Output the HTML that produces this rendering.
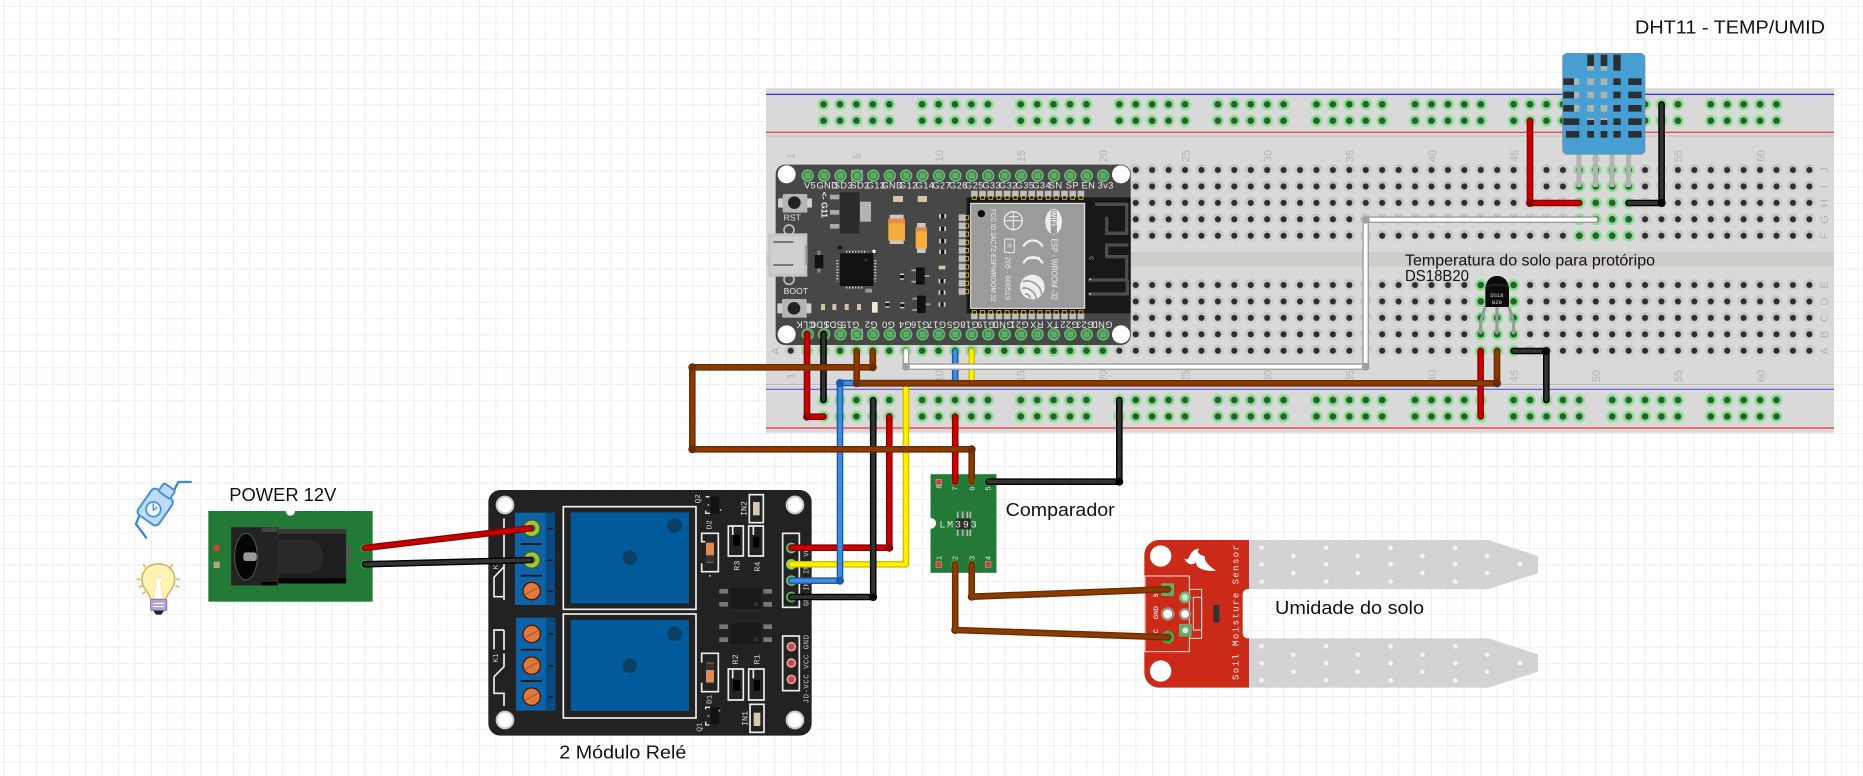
<!DOCTYPE html>
<html><head><meta charset="utf-8"><title>Circuit</title>
<style>
html,body{margin:0;padding:0;background:#fff}
svg{display:block}
text{font-family:"Liberation Sans",sans-serif}
.w{fill:none;stroke-linecap:round;stroke-linejoin:round;stroke-width:6.6}
.i{fill:none;stroke-linecap:round;stroke-linejoin:round;stroke-width:3.8}
.lb{font-size:18px;fill:#111}
.n{font-size:11px;fill:#b4b4b4;text-anchor:middle}
.t{font-size:28px;fill:#eee;text-anchor:middle;letter-spacing:1px}
.s{font-size:24px;fill:#e8e8e8;text-anchor:middle}
.rt{font-size:25px;fill:#d8d8d8;font-family:"Liberation Mono",monospace}
</style></head>
<body>
<svg xmlns="http://www.w3.org/2000/svg" width="1863" height="776" viewBox="0 0 1863 776">
<defs>
<pattern id="gv" x="3.3" y="0" width="16.41" height="100" patternUnits="userSpaceOnUse"><line x1="0" y1="0" x2="0" y2="100" stroke="#e3e7ef" stroke-width="1.4"/></pattern>
<pattern id="gh" x="0" y="6" width="100" height="16.43" patternUnits="userSpaceOnUse"><line x1="0" y1="0" x2="100" y2="0" stroke="#e6e9f0" stroke-width="1.4"/></pattern>
<pattern id="hd" x="782.485" y="161.785" width="16.43" height="16.43" patternUnits="userSpaceOnUse"><rect width="16.43" height="16.43" fill="#d9d9d9"/><circle cx="8.215" cy="8.215" r="5.6" fill="#bdbdbd"/><circle cx="8.215" cy="8.9" r="5" fill="#e6e6e6" opacity=".5"/><circle cx="8.215" cy="8.215" r="3.1" fill="#2e2e2e"/></pattern>
<pattern id="hg" x="782.485" y="161.785" width="16.43" height="16.43" patternUnits="userSpaceOnUse"><rect width="16.43" height="16.43" fill="#d9d9d9"/><circle cx="8.215" cy="8.215" r="5.9" fill="#8be090"/><circle cx="8.215" cy="8.215" r="3.4" fill="#2a5f34"/></pattern>
<pattern id="pin" x="178.4" y="322.4" width="49.25" height="49.25" patternUnits="userSpaceOnUse"><circle cx="24.6" cy="24.6" r="16.5" fill="#3f8c4a" stroke="#6cc578" stroke-width="4"/><rect x="18" y="18" width="13" height="13" fill="#5fa568" stroke="#86b98c" stroke-width="2"/></pattern>
<pattern id="pt" x="691" y="390" width="24.6" height="30" patternUnits="userSpaceOnUse"><rect x="2" y="2" width="20" height="18" fill="#bdbdbd"/><rect x="6" y="18" width="12" height="10" fill="#111" stroke="#e8c83c" stroke-width="2.5"/></pattern>
<pattern id="pb" x="691" y="750" width="24.6" height="30" patternUnits="userSpaceOnUse"><rect x="2" y="10" width="20" height="18" fill="#bdbdbd"/><rect x="6" y="2" width="12" height="10" fill="#111" stroke="#e8c83c" stroke-width="2.5"/></pattern>
<pattern id="pl" x="654" y="461" width="36" height="24.6" patternUnits="userSpaceOnUse"><rect x="2" y="2" width="20" height="20" fill="#bdbdbd"/><rect x="22" y="6" width="10" height="12" fill="#111" stroke="#e8c83c" stroke-width="2.5"/></pattern>
<g id="dots" fill="#f4f4f4">
<circle cx="425" cy="83" r="7"/><circle cx="425" cy="133" r="7"/><circle cx="425" cy="185" r="7"/><circle cx="520" cy="108" r="7"/><circle cx="520" cy="159" r="7"/>
<circle cx="618" cy="83" r="7"/><circle cx="618" cy="133" r="7"/><circle cx="618" cy="185" r="7"/><circle cx="713" cy="108" r="7"/><circle cx="713" cy="159" r="7"/>
<circle cx="812" cy="83" r="7"/><circle cx="812" cy="133" r="7"/><circle cx="812" cy="185" r="7"/><circle cx="907" cy="108" r="7"/><circle cx="907" cy="159" r="7"/>
<circle cx="1006" cy="83" r="7"/><circle cx="1006" cy="133" r="7"/><circle cx="1006" cy="185" r="7"/><circle cx="1101" cy="108" r="7"/><circle cx="1101" cy="159" r="7"/><circle cx="1200" cy="133" r="7"/>
</g>
<g id="scr"><circle r="26" fill="#e07a3c" stroke="#4a1a05" stroke-width="4"/><line x1="-18" y1="10" x2="18" y2="-10" stroke="#b0593a" stroke-width="4"/></g>
<g id="mh"><circle r="25" fill="#fff" stroke="#c9c9c9" stroke-width="6"/></g>
</defs>

<rect width="1863" height="776" fill="#fff"/>
<rect width="1863" height="776" fill="url(#gv)"/>
<rect width="1863" height="776" fill="url(#gh)"/>

<!-- Breadboard -->
<rect x="766" y="88.3" width="1068" height="344.4" fill="#d9d9d9"/>
<rect x="766" y="251.7" width="1068" height="15" fill="#cecdc9"/>
<line x1="766" y1="94.3" x2="1834" y2="94.3" stroke="#1a1ae0" stroke-width="1.2"/>
<line x1="766" y1="132.3" x2="1834" y2="132.3" stroke="#f03030" stroke-width="1.2"/>
<line x1="766" y1="136" x2="1834" y2="136" stroke="#bdbdbd" stroke-width="1"/>
<line x1="766" y1="384.5" x2="1834" y2="384.5" stroke="#bdbdbd" stroke-width="1"/>
<line x1="766" y1="389.3" x2="1834" y2="389.3" stroke="#5a5ae0" stroke-width="1.2"/>
<line x1="766" y1="428" x2="1834" y2="428" stroke="#f03030" stroke-width="1.2"/>

<rect x="782.485" y="161.785" width="1035.09" height="82.15" fill="url(#hd)"/>
<rect x="782.485" y="276.8" width="1035.09" height="82.15" fill="url(#hd)"/>

<g fill="url(#hg)">
<rect x="815.35" y="96.07" width="82.15" height="32.86"/><rect x="913.93" y="96.07" width="82.15" height="32.86"/><rect x="1012.51" y="96.07" width="82.15" height="32.86"/><rect x="1111.09" y="96.07" width="82.15" height="32.86"/><rect x="1209.67" y="96.07" width="82.15" height="32.86"/><rect x="1308.25" y="96.07" width="82.15" height="32.86"/><rect x="1406.83" y="96.07" width="82.15" height="32.86"/><rect x="1505.41" y="96.07" width="82.15" height="32.86"/><rect x="1603.99" y="96.07" width="82.15" height="32.86"/><rect x="1702.57" y="96.07" width="82.15" height="32.86"/>
<rect x="815.35" y="391.8" width="82.15" height="32.86"/><rect x="913.93" y="391.8" width="82.15" height="32.86"/><rect x="1012.51" y="391.8" width="82.15" height="32.86"/><rect x="1111.09" y="391.8" width="82.15" height="32.86"/><rect x="1209.67" y="391.8" width="82.15" height="32.86"/><rect x="1308.25" y="391.8" width="82.15" height="32.86"/><rect x="1406.83" y="391.8" width="82.15" height="32.86"/><rect x="1505.41" y="391.8" width="82.15" height="32.86"/><rect x="1603.99" y="391.8" width="82.15" height="32.86"/><rect x="1702.57" y="391.8" width="82.15" height="32.86"/>
<rect x="798.9" y="342.5" width="312.17" height="16.43"/>
<rect x="1571.1" y="161.785" width="65.72" height="82.15"/>
<rect x="1472.5" y="276.8" width="49.29" height="82.15"/>
</g>

<!-- Column numbers -->
<g class="n">
<text class="n" transform="translate(794.5,156) rotate(-90)">1</text>
<text class="n" transform="translate(860.5,156) rotate(-90)">5</text>
<text class="n" transform="translate(943,156) rotate(-90)">10</text>
<text class="n" transform="translate(1025,156) rotate(-90)">15</text>
<text class="n" transform="translate(1107,156) rotate(-90)">20</text>
<text class="n" transform="translate(1189.5,156) rotate(-90)">25</text>
<text class="n" transform="translate(1271.5,156) rotate(-90)">30</text>
<text class="n" transform="translate(1353.5,156) rotate(-90)">35</text>
<text class="n" transform="translate(1436,156) rotate(-90)">40</text>
<text class="n" transform="translate(1518,156) rotate(-90)">45</text>
<text class="n" transform="translate(1600,156) rotate(-90)">50</text>
<text class="n" transform="translate(1682,156) rotate(-90)">55</text>
<text class="n" transform="translate(1764.5,156) rotate(-90)">60</text>
<text class="n" transform="translate(794.5,376) rotate(-90)">1</text>
<text class="n" transform="translate(860.5,376) rotate(-90)">5</text>
<text class="n" transform="translate(943,376) rotate(-90)">10</text>
<text class="n" transform="translate(1024.5,376) rotate(-90)">15</text>
<text class="n" transform="translate(1107,376) rotate(-90)">20</text>
<text class="n" transform="translate(1189.5,376) rotate(-90)">25</text>
<text class="n" transform="translate(1271.5,376) rotate(-90)">30</text>
<text class="n" transform="translate(1353.5,376) rotate(-90)">35</text>
<text class="n" transform="translate(1436,376) rotate(-90)">40</text>
<text class="n" transform="translate(1518,376) rotate(-90)">45</text>
<text class="n" transform="translate(1600,376) rotate(-90)">50</text>
<text class="n" transform="translate(1682,376) rotate(-90)">55</text>
<text class="n" transform="translate(1764.5,376) rotate(-90)">60</text>
<text class="n" transform="translate(1828,170) rotate(-90)">J</text>
<text class="n" transform="translate(1828,186.5) rotate(-90)">I</text>
<text class="n" transform="translate(1828,203) rotate(-90)">H</text>
<text class="n" transform="translate(1828,219.5) rotate(-90)">G</text>
<text class="n" transform="translate(1828,236) rotate(-90)">F</text>
<text class="n" transform="translate(1828,285) rotate(-90)">E</text>
<text class="n" transform="translate(1828,301.5) rotate(-90)">D</text>
<text class="n" transform="translate(1828,318) rotate(-90)">C</text>
<text class="n" transform="translate(1828,334.5) rotate(-90)">B</text>
<text class="n" transform="translate(1828,351) rotate(-90)">A</text>
<text class="n" transform="translate(779,351) rotate(-90)">A</text>
</g>

<!-- ESP32 -->
<g transform="translate(740,60) scale(.33333)">
<rect x="107" y="314" width="1065" height="541" rx="28" fill="#474747"/>
<rect x="680" y="412" width="492" height="348" fill="#171717"/>
<g fill="none" stroke="#4d4d4d" stroke-width="10">
<path d="M1065 433H1160V520H1100V470"/><path d="M1045 660H1160V590H1100V555H1165"/><path d="M1045 702H1162V660"/>
</g>
<rect x="1048" y="655" width="5" height="5" fill="#e6c84a"/><rect x="1048" y="699" width="5" height="5" fill="#e6c84a"/>
<text x="1062" y="590" transform="rotate(90 1056 583)" style="font-size:16px;fill:#ddd">C</text>
<circle cx="140" cy="343" r="27" fill="#fff"/><circle cx="1143" cy="343" r="27" fill="#fff"/><circle cx="140" cy="823" r="27" fill="#fff"/><circle cx="1143" cy="823" r="27" fill="#fff"/>
<rect x="333" y="330" width="36" height="34" fill="#8f8f8f"/><rect x="333" y="806" width="36" height="34" fill="#8f8f8f"/>
<rect x="178.4" y="322.4" width="935.75" height="49.25" fill="url(#pin)"/>
<g transform="translate(0,476)"><rect x="178.4" y="322.4" width="935.75" height="49.25" fill="url(#pin)"/></g>
<text class="t" x="210" y="385">V5</text><text class="t" x="262" y="385">GND</text><text class="t" x="310" y="385">SD3</text><text class="t" x="360" y="385">SD2</text><text class="t" x="408" y="385">G13</text><text class="t" x="457" y="385">GND</text><text class="t" x="505" y="385">G12</text><text class="t" x="555" y="385">G14</text><text class="t" x="605" y="385">G27</text><text class="t" x="655" y="385">G26</text><text class="t" x="703" y="385">G25</text><text class="t" x="755" y="385">G33</text><text class="t" x="805" y="385">G32</text><text class="t" x="855" y="385">G35</text><text class="t" x="905" y="385">G34</text><text class="t" x="947" y="385">SN</text><text class="t" x="997" y="385">SP</text><text class="t" x="1045" y="385">EN</text><text class="t" x="1097" y="385">3v3</text>
<text class="t" transform="translate(197,785) rotate(180)">CLK</text><text class="t" transform="translate(240,785) rotate(180)">SD0</text><text class="t" transform="translate(280,785) rotate(180)">SD1</text><text class="t" transform="translate(330,785) rotate(180)">G15</text><text class="t" transform="translate(393,785) rotate(180)">G2</text><text class="t" transform="translate(445,785) rotate(180)">G0</text><text class="t" transform="translate(495,785) rotate(180)">G4</text><text class="t" transform="translate(540,785) rotate(180)">G16</text><text class="t" transform="translate(590,785) rotate(180)">G17</text><text class="t" transform="translate(640,785) rotate(180)">G5</text><text class="t" transform="translate(688,785) rotate(180)">G18</text><text class="t" transform="translate(738,785) rotate(180)">G19</text><text class="t" transform="translate(788,785) rotate(180)">GND</text><text class="t" transform="translate(838,785) rotate(180)">G21</text><text class="t" transform="translate(890,785) rotate(180)">RX</text><text class="t" transform="translate(938,785) rotate(180)">TX</text><text class="t" transform="translate(988,785) rotate(180)">G22</text><text class="t" transform="translate(1035,785) rotate(180)">G23</text><text class="t" transform="translate(1085,785) rotate(180)">GND</text>

<!-- buttons -->
<rect x="114" y="415" width="102" height="28" rx="3" fill="#cfcfcf"/><rect x="128" y="402" width="74" height="56" rx="4" fill="#b5b5b5"/><circle cx="163" cy="428" r="19" fill="#222"/>
<rect x="112" y="730" width="102" height="30" rx="3" fill="#cfcfcf"/><rect x="126" y="717" width="74" height="56" rx="4" fill="#b5b5b5"/><circle cx="162" cy="745" r="19" fill="#222"/>
<text x="131" y="482" style="font-size:26px;fill:#e8e8e8">RST</text><text x="131" y="702" style="font-size:26px;fill:#e8e8e8">BOOT</text>
<!-- USB -->
<circle cx="147" cy="510" r="15" fill="none" stroke="#bdbdbd" stroke-width="5"/><circle cx="147" cy="658" r="15" fill="none" stroke="#bdbdbd" stroke-width="5"/>
<rect x="85" y="520" width="117" height="130" fill="#c4c4c4"/><rect x="92" y="530" width="100" height="110" fill="#cfcfcf"/>
<rect x="100" y="543" width="60" height="6" fill="#777"/><rect x="100" y="612" width="60" height="6" fill="#777"/><rect x="196" y="555" width="7" height="60" fill="#999"/>
<!-- regulator -->
<rect x="270" y="404" width="28" height="14" fill="#aaa"/><rect x="270" y="450" width="28" height="14" fill="#aaa"/><rect x="270" y="492" width="28" height="14" fill="#aaa"/>
<rect x="300" y="397" width="58" height="123" fill="#2a2a2a"/><rect x="360" y="425" width="33" height="60" fill="#b3b3b3"/>
<text transform="translate(245,395) rotate(90)" style="font-size:26px;fill:#eee;font-weight:bold">&lt;- G11</text>
<!-- caps -->
<rect x="449" y="464" width="42" height="88" fill="#c8c8c8"/><rect x="445" y="476" width="50" height="66" fill="#f5ad3c"/><rect x="445" y="476" width="50" height="14" fill="#e88c42"/>
<rect x="531" y="489" width="26" height="90" fill="#c8c8c8"/><rect x="527" y="502" width="34" height="64" fill="#f5ad3c"/><rect x="527" y="502" width="34" height="12" fill="#e88c42"/>
<rect x="459" y="408" width="30" height="18" fill="#d5c3a5"/><rect x="533" y="408" width="28" height="18" fill="#d5c3a5"/>
<!-- MCU -->
<rect x="300" y="580" width="100" height="98" fill="#111"/><circle cx="378" cy="600" r="5" fill="#333"/>
<path d="M318 575H382M318 683H372M292 600V665M406 600V665" stroke="#ccc" stroke-width="6" stroke-dasharray="4 5" fill="none"/>
<circle cx="402" cy="574" r="5" fill="#fff"/><rect x="294" y="558" width="12" height="10" fill="#111"/><rect x="376" y="686" width="20" height="12" fill="#999"/>
<rect x="232" y="572" width="10" height="66" fill="#aaa" opacity=".6"/><rect x="224" y="585" width="26" height="40" fill="#111"/>
<!-- small parts -->
<g fill="#d5c3a5"><rect x="243" y="732" width="12" height="18"/><rect x="277" y="732" width="12" height="18"/><rect x="314" y="732" width="12" height="18"/><rect x="351" y="732" width="12" height="18"/><rect x="596" y="617" width="20" height="11"/></g>
<rect x="396" y="726" width="17" height="32" fill="#efe7cf"/>
<g fill="#ddd"><rect x="598" y="462" width="20" height="13"/><rect x="598" y="500" width="20" height="13"/><rect x="598" y="537" width="20" height="13"/><rect x="598" y="569" width="20" height="13"/><rect x="596" y="657" width="20" height="13"/><rect x="596" y="691" width="20" height="13"/><rect x="596" y="727" width="20" height="13"/><rect x="436" y="725" width="12" height="18"/><rect x="481" y="727" width="12" height="18"/><rect x="480" y="641" width="12" height="18"/></g>
<g fill="#111"><rect x="603" y="462" width="10" height="13"/><rect x="603" y="500" width="10" height="13"/><rect x="603" y="537" width="10" height="13"/><rect x="603" y="569" width="10" height="13"/><rect x="601" y="657" width="10" height="13"/><rect x="601" y="691" width="10" height="13"/><rect x="601" y="727" width="10" height="13"/><rect x="436" y="729" width="12" height="10"/><rect x="481" y="731" width="12" height="10"/><rect x="480" y="645" width="12" height="10"/></g>
<rect x="528" y="622" width="26" height="52" fill="#111"/><rect x="531" y="707" width="26" height="52" fill="#111"/>
<g fill="#999"><rect x="514" y="628" width="14" height="6"/><rect x="514" y="662" width="14" height="6"/><rect x="554" y="645" width="14" height="6"/><rect x="517" y="713" width="14" height="6"/><rect x="517" y="747" width="14" height="6"/><rect x="557" y="730" width="14" height="6"/></g>
<!-- module -->
<rect x="691" y="390" width="345" height="30" fill="url(#pt)"/>
<rect x="691" y="750" width="345" height="30" fill="url(#pb)"/>
<rect x="654" y="461" width="36" height="246" fill="url(#pl)"/>
<rect x="692" y="430" width="342" height="315" fill="#9b9b9b" stroke="#f0f0f0" stroke-width="3"/>
<circle cx="724" cy="461" r="11" fill="#050505"/>
<text transform="translate(753,447) rotate(90)" style="font-size:21px;fill:#eee" textLength="278" lengthAdjust="spacingAndGlyphs">FCC ID:2AC7Z-ESPWROOM 32</text>
<text transform="translate(797,590) rotate(90)" style="font-size:22px;fill:#eee" textLength="130" lengthAdjust="spacingAndGlyphs">205 - 000519</text>
<text transform="translate(934,535) rotate(90)" style="font-size:24px;fill:#eee" textLength="185" lengthAdjust="spacingAndGlyphs">ESP - WROOM -32</text>
<circle cx="820" cy="482" r="27" fill="none" stroke="#eee" stroke-width="4"/><path d="M796 482H845M820 456V510M806 470H835" stroke="#eee" stroke-width="3" fill="none"/>
<ellipse cx="941" cy="485" rx="25" ry="38" fill="#eee"/><rect x="932" y="450" width="19" height="72" rx="6" fill="#9b9b9b"/>
<text transform="translate(934,452) rotate(90)" style="font-size:22px;fill:#eee;font-weight:bold">WiFi</text>
<rect x="794" y="537" width="29" height="41" rx="3" fill="none" stroke="#eee" stroke-width="3"/>
<text transform="translate(801,551) rotate(90)" style="font-size:18px;fill:#eee">R</text>
<path d="M850 560A32 32 0 0 1 908 560" fill="none" stroke="#eee" stroke-width="7"/>
<path d="M850 610A32 32 0 0 1 908 610M860 594H900" fill="none" stroke="#eee" stroke-width="7"/>
<circle cx="877" cy="681" r="37" fill="#eee"/><path d="M848 665C875 655 905 680 905 705M846 685C865 680 885 695 888 715M855 702C865 702 870 710 872 716" fill="none" stroke="#9b9b9b" stroke-width="5"/>
</g>

<!-- Relay board -->
<g transform="translate(480,480) scale(.33333)">
<rect x="25" y="30" width="970" height="737" rx="36" fill="#222"/>
<use href="#mh" x="75" y="75"/><use href="#mh" x="945" y="75"/><use href="#mh" x="75" y="720"/><use href="#mh" x="945" y="720"/>
<rect x="105" y="98" width="120" height="277" fill="#0e62a8"/><rect x="197" y="98" width="28" height="277" fill="#094a82"/>
<rect x="108" y="413" width="118" height="279" fill="#0e62a8"/><rect x="198" y="413" width="28" height="279" fill="#094a82"/>
<path d="M72 115V260L42 292V350H72V260M72 350V360" fill="none" stroke="#eee" stroke-width="5"/>
<path d="M72 450H42V508M72 450V510M42 590V640H72V678M42 590L72 560V520" fill="none" stroke="#eee" stroke-width="5"/>
<text transform="translate(54,268) rotate(-90)" style="font-size:22px;fill:#ddd">K2</text>
<text transform="translate(54,548) rotate(-90)" style="font-size:22px;fill:#ddd">K1</text>
<g stroke="#111" stroke-width="5"><line x1="122" y1="192" x2="186" y2="192"/><line x1="122" y1="287" x2="186" y2="287"/><line x1="122" y1="509" x2="186" y2="509"/><line x1="122" y1="603" x2="186" y2="603"/></g>
<g stroke="#111" stroke-width="4"><line x1="203" y1="146" x2="218" y2="146"/><line x1="203" y1="241" x2="218" y2="241"/><line x1="203" y1="334" x2="218" y2="334"/><line x1="205" y1="462" x2="220" y2="462"/><line x1="205" y1="558" x2="220" y2="558"/><line x1="205" y1="651" x2="220" y2="651"/></g>
<circle cx="155" cy="145" r="25" fill="#a9c13c" stroke="#2c6a20" stroke-width="4"/><circle cx="155" cy="145" r="11" fill="#1f6a2a"/>
<circle cx="155" cy="240" r="25" fill="#a9c13c" stroke="#2c6a20" stroke-width="4"/><circle cx="155" cy="240" r="11" fill="#1f6a2a"/>
<use href="#scr" x="155" y="333"/><use href="#scr" x="155" y="462"/><use href="#scr" x="155" y="557"/><use href="#scr" x="155" y="650"/>
<rect x="250" y="80" width="398" height="308" fill="none" stroke="#f2f2f2" stroke-width="5"/><rect x="272" y="97" width="355" height="273" fill="#015a9c"/>
<rect x="250" y="402" width="398" height="312" fill="none" stroke="#f2f2f2" stroke-width="5"/><rect x="272" y="420" width="355" height="273" fill="#015a9c"/>
<g fill="#0c3f66"><circle cx="449" cy="233" r="22"/><circle cx="584" cy="137" r="22"/><circle cx="449" cy="557" r="22"/><circle cx="584" cy="461" r="22"/></g>
<!-- diodes -->
<path d="M676 185H665V160H715V275H665V250M676 185" fill="none" stroke="#eee" stroke-width="5"/>
<rect x="678" y="188" width="24" height="60" rx="4" fill="#e08a50"/><rect x="678" y="226" width="24" height="20" fill="#333"/><line x1="690" y1="285" x2="690" y2="290" stroke="#eee" stroke-width="4"/>
<path d="M665 548V520H715V635H665V608" fill="none" stroke="#eee" stroke-width="5"/>
<rect x="678" y="548" width="24" height="60" rx="4" fill="#e08a50"/><rect x="678" y="550" width="24" height="20" fill="#333"/>
<!-- small transistors -->
<rect x="692" y="50" width="26" height="50" fill="#111"/><rect x="692" y="682" width="26" height="50" fill="#111"/>
<g fill="#aaa"><circle cx="685" cy="75" r="3"/><circle cx="722" cy="90" r="3"/><circle cx="685" cy="708" r="3"/><circle cx="718" cy="692" r="3"/></g>
<path d="M677 50H688M677 92V100H690" stroke="#eee" stroke-width="4" fill="none"/><path d="M677 688V682H690M677 725V735H688" stroke="#eee" stroke-width="4" fill="none"/>
<text transform="translate(660,70) rotate(-90)" class="rt" style="font-size:23px">Q2</text>
<text transform="translate(695,148) rotate(-90)" class="rt" style="font-size:23px">D2</text>
<text transform="translate(695,672) rotate(-90)" class="rt" style="font-size:23px">D1</text>
<text transform="translate(664,755) rotate(-90)" class="rt" style="font-size:23px">Q1</text>
<!-- resistor boxes -->
<g fill="none" stroke="#eee" stroke-width="5">
<path d="M758 165V138H790V228H745V138H758"/><path d="M820 165V138H850V228H806V138H820"/>
<path d="M758 595V567H790V660H745V567H758"/><path d="M820 595V567H852V660H806V567H820"/>
<rect x="808" y="44" width="42" height="84"/><rect x="810" y="673" width="42" height="84"/>
<rect x="908" y="160" width="50" height="222"/><rect x="908" y="468" width="50" height="164"/>
</g>
<g fill="#000"><rect x="760" y="165" width="20" height="32"/><rect x="820" y="170" width="18" height="32"/><rect x="760" y="600" width="20" height="32"/><rect x="822" y="600" width="18" height="32"/></g>
<rect x="819" y="66" width="20" height="40" fill="#d5c9b0"/><rect x="821" y="698" width="20" height="40" fill="#d5c9b0"/>
<text transform="translate(778,272) rotate(-90)" class="rt">R3</text><text transform="translate(840,275) rotate(-90)" class="rt">R4</text>
<text transform="translate(774,553) rotate(-90)" class="rt">R2</text><text transform="translate(838,553) rotate(-90)" class="rt">R1</text>
<text transform="translate(800,108) rotate(-90)" class="rt">IN2</text><text transform="translate(802,738) rotate(-90)" class="rt">IN1</text>
<!-- opto -->
<rect x="748" y="322" width="97" height="66" fill="#1a1a1a" stroke="#333"/><rect x="748" y="427" width="97" height="66" fill="#1a1a1a" stroke="#333"/>
<g fill="#777"><rect x="718" y="327" width="26" height="14"/><rect x="718" y="366" width="26" height="14"/><rect x="850" y="327" width="26" height="14"/><rect x="850" y="366" width="26" height="14"/><rect x="718" y="433" width="26" height="14"/><rect x="718" y="472" width="26" height="14"/><rect x="850" y="433" width="26" height="14"/><rect x="850" y="472" width="26" height="14"/></g>
<circle cx="828" cy="373" r="6" fill="#333"/><circle cx="828" cy="478" r="6" fill="#333"/>
<!-- header pins -->
<circle cx="934" cy="204" r="14" fill="#3f8c4a" stroke="#6cc578" stroke-width="4"/>
<circle cx="934" cy="253" r="14" fill="#c9d91e" stroke="#78d060" stroke-width="4"/>
<circle cx="934" cy="302" r="14" fill="#3f8c4a" stroke="#6cc578" stroke-width="4"/>
<circle cx="934" cy="351" r="14" fill="#2b7a38" stroke="#5cb868" stroke-width="4"/>
<g fill="#c94a4a" stroke="#e5a0a0" stroke-width="5"><circle cx="934" cy="500" r="12"/><circle cx="934" cy="549" r="12"/><circle cx="934" cy="598" r="12"/></g>
<text transform="translate(986,378) rotate(-90)" class="rt" style="font-size:21px">GND</text>
<text transform="translate(986,332) rotate(-90)" class="rt" style="font-size:21px">IN1</text>
<text transform="translate(986,282) rotate(-90)" class="rt" style="font-size:21px">IN2</text>
<text transform="translate(986,230) rotate(-90)" class="rt" style="font-size:21px">VCC</text>
<text transform="translate(986,670) rotate(-90)" class="rt" style="font-size:22px" textLength="205">JD-VCC VCC GND</text>
</g>

<!-- Power jack -->
<g transform="translate(100,460) scale(.33333)">
<rect x="325" y="153" width="493" height="272" fill="#237a37"/>
<circle cx="571" cy="153" r="14" fill="#fff"/>
<rect x="341" y="255" width="18" height="19" fill="#c9473a"/><rect x="341" y="305" width="18" height="19" fill="#b9a77c"/>
<rect x="533" y="208" width="205" height="162" fill="#1e1e1e" stroke="#2e3c30" stroke-width="2"/>
<rect x="533" y="208" width="205" height="14" fill="#3a3a3a"/><rect x="533" y="355" width="205" height="15" fill="#000"/>
<path d="M533 238H620C650 238 670 262 670 290C670 320 650 340 620 340H533Z" fill="#292929"/>
<rect x="738" y="252" width="12" height="58" fill="#555"/>
<rect x="394" y="202" width="140" height="174" fill="#232323" stroke="#2e3c30" stroke-width="2"/>
<rect x="485" y="202" width="46" height="14" fill="#444"/><rect x="485" y="366" width="46" height="10" fill="#000"/>
<ellipse cx="438" cy="290" rx="34" ry="70" fill="#050505" stroke="#4a5f50" stroke-width="3"/>
<rect x="430" y="277" width="40" height="26" rx="8" fill="#9a9a9a"/>
<circle cx="795" cy="264" r="12" fill="#2b7a38" stroke="#2fa83c" stroke-width="3"/><circle cx="795" cy="313" r="12" fill="#2b7a38" stroke="#2fa83c" stroke-width="3"/>
</g>

<!-- Icons -->
<g transform="translate(100,460) scale(.33333)">
<path d="M220 95L235 66H275M140 235L108 192L125 150" fill="none" stroke="#3f86c9" stroke-width="7" stroke-linejoin="round"/>
<g transform="rotate(35 170 135)">
<rect x="132" y="95" width="76" height="95" rx="14" fill="#bcdcfb" stroke="#4a90d0" stroke-width="6"/>
<rect x="150" y="68" width="42" height="30" rx="6" fill="#bcdcfb" stroke="#4a90d0" stroke-width="6"/>
</g>
<circle cx="160" cy="148" r="22" fill="#eef6ff" stroke="#4a90d0" stroke-width="5"/><path d="M160 130V150L172 142" fill="none" stroke="#4a90d0" stroke-width="4"/>
<path d="M175 312C135 312 120 345 128 372C135 395 150 400 152 418H198C200 400 215 395 222 372C230 345 215 312 175 312Z" fill="#fff3b4" stroke="#d8b868" stroke-width="5"/>
<path d="M160 415L168 368C158 355 165 345 175 355C185 345 192 355 182 368L190 415" fill="#fff" stroke="#fbe58e" stroke-width="3"/>
<rect x="152" y="418" width="48" height="34" rx="3" fill="#b6a1d3" stroke="#8c77b0" stroke-width="3"/>
<path d="M160 430H192M160 440H192" stroke="#fff" stroke-width="3"/><path d="M160 452H192L184 464H168Z" fill="#222"/>
<path d="M130 312L135 322M218 312L212 322M110 358H122M228 358H240M116 382L128 376M238 382L226 376M128 402L136 395" stroke="#d8b868" stroke-width="5"/>
</g>

<!-- Comparator -->
<g transform="translate(800,440) scale(.33333)">
<rect x="392" y="103" width="197" height="295" fill="#237a37" stroke="#5fa56f" stroke-width="2"/>
<circle cx="392" cy="250" r="16" fill="#fff"/>
<g fill="#c9473a" stroke="#e0907a" stroke-width="2"><rect x="408" y="118" width="17" height="17"/><rect x="556" y="365" width="17" height="17"/><rect x="408" y="365" width="17" height="17"/></g>
<g fill="#3f8c4a" stroke="#2fa83c" stroke-width="3"><circle cx="465" cy="125" r="11"/><circle cx="515" cy="125" r="11"/><circle cx="565" cy="125" r="11"/><circle cx="465" cy="373" r="11"/><circle cx="515" cy="373" r="11"/></g>
<path d="M473 215V235M488 215V235M502 215V235M511 215V235M473 268V288M488 268V288M502 268V288M511 268V288" stroke="#b8b8b8" stroke-width="5"/>
<rect x="468" y="235" width="44" height="33" fill="#2a2a2a"/>
<text x="418" y="263" style="font-size:30px;fill:#e8e8e8;font-family:'Liberation Mono',monospace" textLength="112">LM393</text>
<text transform="translate(425,146) rotate(-90)" style="font-size:22px;fill:#e8e8e8">8</text><text transform="translate(473,152) rotate(-90)" style="font-size:22px;fill:#e8e8e8">7</text><text transform="translate(523,152) rotate(-90)" style="font-size:22px;fill:#e8e8e8">6</text><text transform="translate(572,152) rotate(-90)" style="font-size:22px;fill:#e8e8e8">5</text>
<text transform="translate(425,360) rotate(-90)" style="font-size:22px;fill:#e8e8e8">1</text><text transform="translate(473,360) rotate(-90)" style="font-size:22px;fill:#e8e8e8">2</text><text transform="translate(523,360) rotate(-90)" style="font-size:22px;fill:#e8e8e8">3</text><text transform="translate(572,360) rotate(-90)" style="font-size:22px;fill:#e8e8e8">4</text>
</g>

<!-- Soil sensor -->
<g transform="translate(1120,520) scale(.33333)">
<path d="M387 60H1105L1254 108V160L1105 207H387Z" fill="#d3d3d3"/>
<path d="M387 355H1105L1254 403V455L1105 503H387Z" fill="#d3d3d3"/>
<use href="#dots"/><use href="#dots" y="296"/>
<path d="M120 60H387V207H385C373 207 368 215 368 226V336C368 347 373 355 385 355H387V503H120C92 503 73 484 73 456V107C73 80 92 60 120 60Z" fill="#cc2a18"/>
<circle cx="122" cy="108" r="32" fill="#fff"/><circle cx="122" cy="453" r="32" fill="#fff"/>
<path d="M192 115C215 128 200 90 238 86C225 100 245 105 255 110C252 125 270 140 288 152C268 155 225 150 228 125C222 138 202 135 192 115Z" fill="#fff"/>
<text transform="translate(355,480) rotate(-90)" style="font-size:27px;fill:#f8f0ee;font-family:'Liberation Mono',monospace" textLength="405">Soil Moisture Sensor</text>
<g fill="none" stroke="#f4e0dc" stroke-width="3"><rect x="75" y="168" width="133" height="227"/><path d="M208 208H245V355H208"/><rect x="220" y="232" width="25" height="98"/></g>
<rect x="280" y="255" width="18" height="53" fill="#333"/>
<text transform="translate(114,232) rotate(-90)" style="font-size:18px;fill:#f4e0dc;font-weight:bold">S</text>
<text transform="translate(114,298) rotate(-90)" style="font-size:18px;fill:#f4e0dc;font-weight:bold">GND</text>
<text transform="translate(114,340) rotate(-90)" style="font-size:18px;fill:#f4e0dc;font-weight:bold">C</text>
<rect x="124" y="190" width="38" height="38" fill="#6ca86c"/><circle cx="143" cy="208" r="12" fill="#2f9a3a"/>
<circle cx="195" cy="232" r="15" fill="#8fdc94" stroke="#7ea070" stroke-width="6"/><circle cx="195" cy="232" r="7" fill="#d8f0d8"/>
<circle cx="143" cy="282" r="17" fill="#fff" stroke="#a08b74" stroke-width="7"/><circle cx="195" cy="282" r="15" fill="#fff" stroke="#a08b74" stroke-width="7"/>
<rect x="177" y="312" width="38" height="38" fill="#6ca86c"/><circle cx="196" cy="331" r="9" fill="#d8f0d8"/>
<circle cx="143" cy="352" r="17" fill="#2f9a3a" stroke="#57b05f" stroke-width="4"/>
</g>

<!-- Wires -->
<path class="w" stroke="#8c0000" d="M889.3 416.7V547.7H791.5"/><path class="i" stroke="#cb0000" d="M889.3 416.7V547.7H791.5"/>
<path class="w" stroke="#d0c000" d="M971.7 351V383H906V564.3H791.5"/><path class="i" stroke="#fff200" d="M971.7 351V383H906V564.3H791.5"/>
<path class="w" stroke="#000" d="M873.2 400.3V597H791.5"/><path class="i" stroke="#333" d="M873.2 400.3V597H791.5"/>
<path class="w" stroke="#1a5ab0" d="M955.2 351V383H840V580.7H791.5"/><path class="i" stroke="#418dd9" d="M955.2 351V383H840V580.7H791.5"/>
<circle cx="840" cy="580.7" r="4" fill="#1a5ab0"/><circle cx="840" cy="383" r="4" fill="#1a5ab0"/>
<path class="w" stroke="#8c0000" d="M807 334V416.7H823.5"/><path class="i" stroke="#cb0000" d="M807 334V416.7H823.5"/>
<circle cx="807" cy="416.7" r="4" fill="#8c0000"/><circle cx="889.3" cy="547.7" r="4" fill="#8c0000"/>
<path class="w" stroke="#000" d="M823.5 334V400"/><path class="i" stroke="#333" d="M823.5 334V400"/>
<path class="w" stroke="#8c0000" d="M955.2 416.7V481.7"/><path class="i" stroke="#cb0000" d="M955.2 416.7V481.7"/>
<path class="w" stroke="#000" d="M988.3 481.7H1119.3V400"/><path class="i" stroke="#333" d="M988.3 481.7H1119.3V400"/>
<path class="w" stroke="#000" d="M1513.6 351H1546.3V400"/><path class="i" stroke="#333" d="M1513.6 351H1546.3V400"/>
<path class="w" stroke="#9e9e9e" d="M906 351V366.7H1365.7V219.7H1595.3"/><path class="i" stroke="#fff" d="M906 351V366.7H1365.7V219.7H1595.3"/>
<circle cx="906" cy="366.7" r="4" fill="#a0a0a0"/><circle cx="1365.7" cy="366.7" r="4" fill="#a0a0a0"/><circle cx="1365.7" cy="219.7" r="4" fill="#a0a0a0"/>
<path class="w" stroke="#8c0000" d="M1480.6 351V416.3"/><path class="i" stroke="#cb0000" d="M1480.6 351V416.3"/>
<path class="w" stroke="#6b2d05" d="M872.8 351V367.3H692.3V449.3H971.7V481.7"/><path class="i" stroke="#8c3b00" d="M872.8 351V367.3H692.3V449.3H971.7V481.7"/>
<path class="w" stroke="#6b2d05" d="M856.7 351V383.3H1497V351"/><path class="i" stroke="#8c3b00" d="M856.7 351V383.3H1497V351"/>
<g fill="#6b2d05"><circle cx="872.8" cy="367.3" r="4"/><circle cx="692.3" cy="367.3" r="4"/><circle cx="692.3" cy="449.3" r="4"/><circle cx="971.7" cy="449.3" r="4"/><circle cx="856.7" cy="383.3" r="4"/><circle cx="1497" cy="383.3" r="4"/><circle cx="971.7" cy="596.7" r="4"/><circle cx="955.2" cy="630" r="4"/></g>
<path class="w" stroke="#6b2d05" d="M971.7 564.3V596.7L1167.7 589.3"/><path class="i" stroke="#8c3b00" d="M971.7 564.3V596.7L1167.7 589.3"/>
<path class="w" stroke="#6b2d05" d="M955.2 564.3V630L1167.7 637.3"/><path class="i" stroke="#8c3b00" d="M955.2 564.3V630L1167.7 637.3"/>
<path class="w" stroke="#8c0000" d="M365 548L530 528.3"/><path class="i" stroke="#cb0000" d="M365 548L530 528.3"/>
<path class="w" stroke="#000" d="M365 564.3L530 560"/><path class="i" stroke="#333" d="M365 564.3L530 560"/>
<g fill="#000"><circle cx="873.2" cy="597" r="4"/><circle cx="1119.3" cy="481.7" r="4"/><circle cx="1546.3" cy="351" r="4"/></g>

<!-- DS18B20 -->
<path d="M1485 307L1480.6 322V334M1497 307V334M1509 307L1513.6 322V334" fill="none" stroke="#9a9a9a" stroke-width="3.2"/>
<path d="M1485.3 307V291C1485.3 281 1490 276 1497 276C1504 276 1509 281 1509 291V307Z" fill="#0c0c0c"/>
<path d="M1485.3 287C1490 284 1504 284 1509 287" fill="none" stroke="#333" stroke-width="1"/>
<text x="1497" y="297" style="font-size:5.5px;fill:#ddd;text-anchor:middle;font-family:'Liberation Mono',monospace">DS18</text>
<text x="1497" y="304" style="font-size:5.5px;fill:#ddd;text-anchor:middle;font-family:'Liberation Mono',monospace">B20</text>

<!-- DHT11 -->
<g fill="#b3b3b3"><rect x="1576.5" y="154" width="5" height="33"/><rect x="1593" y="154" width="5" height="33"/><rect x="1609.5" y="154" width="5" height="33"/><rect x="1626" y="154" width="5" height="33"/></g>
<path class="w" stroke="#8c0000" d="M1530 120.7V203H1579"/><path class="i" stroke="#cb0000" d="M1530 120.7V203H1579"/>
<path class="w" stroke="#000" d="M1661.6 104.7V203H1628.5"/><path class="i" stroke="#333" d="M1661.6 104.7V203H1628.5"/>
<circle cx="1530" cy="203" r="4" fill="#8c0000"/><circle cx="1661.6" cy="203" r="4" fill="#000"/>
<g transform="translate(1560,50) scale(.33333)">
<rect x="8" y="10" width="247" height="303" rx="14" fill="#479fd3" stroke="#6f8796" stroke-width="2"/>
<g fill="#2a2f33">
<rect x="82" y="14" width="20" height="34"/><rect x="122" y="14" width="20" height="34"/><rect x="160" y="14" width="22" height="48"/>
<rect x="10" y="85" width="32" height="20"/><rect x="10" y="125" width="32" height="20"/><rect x="10" y="165" width="32" height="20"/><rect x="10" y="205" width="48" height="20"/><rect x="18" y="243" width="40" height="20"/>
<rect x="160" y="85" width="22" height="20"/><rect x="160" y="125" width="22" height="20"/><rect x="160" y="165" width="22" height="20"/><rect x="160" y="205" width="22" height="20"/><rect x="160" y="243" width="22" height="20"/>
<rect x="205" y="85" width="40" height="20"/><rect x="205" y="125" width="40" height="20"/><rect x="205" y="165" width="40" height="20"/><rect x="205" y="205" width="40" height="20"/><rect x="205" y="243" width="40" height="20"/>
<rect x="82" y="210" width="20" height="15"/><rect x="122" y="210" width="20" height="15"/><rect x="82" y="243" width="20" height="20"/><rect x="122" y="243" width="20" height="20"/>
</g>
<g fill="#a9b5b0">
<rect x="82" y="48" width="20" height="14"/><rect x="122" y="48" width="20" height="14"/>
<rect x="42" y="85" width="16" height="20"/><rect x="42" y="125" width="16" height="20"/><rect x="42" y="165" width="16" height="20"/>
<rect x="82" y="85" width="20" height="20"/><rect x="122" y="85" width="20" height="20"/><rect x="82" y="125" width="20" height="20"/><rect x="122" y="125" width="20" height="20"/><rect x="82" y="165" width="20" height="20"/><rect x="122" y="165" width="20" height="20"/>
<rect x="82" y="204" width="20" height="6"/><rect x="122" y="204" width="20" height="6"/>
</g>
</g>

<!-- Labels -->
<text class="lb" x="1635" y="33.5" textLength="190" lengthAdjust="spacingAndGlyphs">DHT11 - TEMP/UMID</text>
<text class="lb" style="font-size:16px" x="1405" y="265.7" textLength="250" lengthAdjust="spacingAndGlyphs">Temperatura do solo para protóripo</text>
<text class="lb" style="font-size:16px" x="1405" y="280.9" textLength="64" lengthAdjust="spacingAndGlyphs">DS18B20</text>
<text class="lb" x="229.3" y="501" textLength="107" lengthAdjust="spacingAndGlyphs">POWER 12V</text>
<text class="lb" x="559.3" y="758.3" textLength="127" lengthAdjust="spacingAndGlyphs">2 Módulo Relé</text>
<text class="lb" x="1005.7" y="516" textLength="109" lengthAdjust="spacingAndGlyphs">Comparador</text>
<text class="lb" x="1275" y="614" textLength="149" lengthAdjust="spacingAndGlyphs">Umidade do solo</text>
</svg>
</body></html>
